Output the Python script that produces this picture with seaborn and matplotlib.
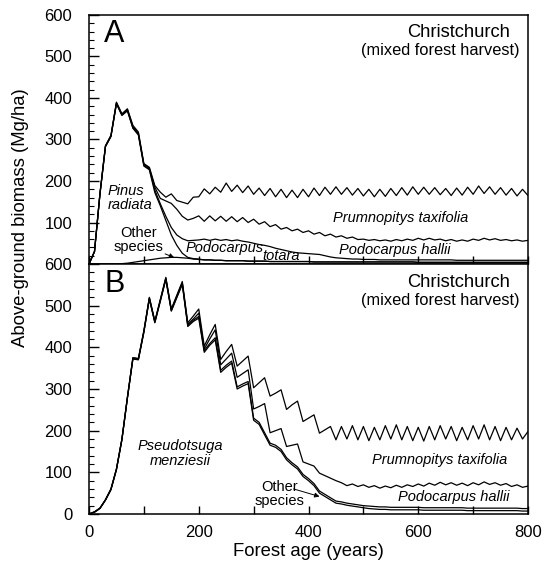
"""Above-ground biomass by species, Christchurch mixed forest harvest (two panels)."""

import pandas as pd
import seaborn as sns
import matplotlib.pyplot as plt
from matplotlib.ticker import MultipleLocator, FixedLocator, FixedFormatter

#########################################################################################
# Data - upper edge of each stacked species band (cumulative biomass, Mg/ha)
#########################################################################################

ages = list(range(0, 801, 10))

# Panel A
a_other = [0, 0, 0, 0, 0, 0, 1, 2, 4, 6,
           8, 10, 12, 14, 15, 16, 16, 15, 14, 12,
           11, 10, 10, 9, 9, 8, 8, 8, 8, 7,
           7, 7, 7, 6, 6, 6, 6, 6, 6, 6,
           6, 5, 5, 5, 5, 5, 5, 5, 5, 5,
           5, 5, 5, 5, 5, 5, 5, 5, 5, 5,
           4, 4, 4, 4, 4, 4, 4, 4, 4, 4,
           4, 4, 4, 4, 4, 4, 4, 4, 4, 4,
           4]
a_pinus = [0, 30, 169, 283, 307, 386, 358, 369, 327, 311,
           236, 227, 172, 140, 105, 70, 45, 26, 16, 13,
           12, 10, 10, 9, 9, 8, 8, 8, 8, 7,
           7, 7, 7, 6, 6, 6, 6, 6, 6, 6,
           6, 5, 5, 5, 5, 5, 5, 5, 5, 5,
           5, 5, 5, 5, 5, 5, 5, 5, 5, 5,
           4, 4, 4, 4, 4, 4, 4, 4, 4, 4,
           4, 4, 4, 4, 4, 4, 4, 4, 4, 4,
           4]
a_totara = [0, 30, 169, 283, 308, 387, 359, 370, 328, 312,
            238, 229, 178, 145, 115, 88, 70, 61, 56, 57,
            58, 60, 57, 60, 57, 59, 56, 58, 55, 53,
            50, 47, 45, 42, 38, 35, 32, 29, 27, 26,
            25, 24, 23, 20, 17, 15, 14, 13, 12, 12,
            11, 11, 11, 10, 10, 10, 10, 10, 10, 10,
            10, 10, 10, 10, 10, 10, 10, 9, 9, 9,
            9, 9, 9, 9, 9, 9, 9, 9, 9, 9,
            9]
a_hallii = [0, 30, 170, 284, 309, 388, 360, 372, 331, 315,
            240, 231, 185, 158, 152, 146, 132, 115, 106, 110,
            116, 103, 116, 104, 115, 103, 114, 102, 112, 100,
            108, 96, 102, 90, 95, 84, 88, 80, 84, 76,
            80, 72, 76, 68, 72, 65, 68, 62, 65, 59,
            60, 57, 59, 56, 58, 55, 59, 56, 60, 57,
            62, 58, 62, 58, 60, 56, 59, 55, 58, 55,
            60, 57, 62, 58, 61, 57, 59, 56, 58, 55,
            57]
a_taxifolia = [0, 30, 170, 285, 310, 390, 362, 374, 334, 318,
               242, 233, 189, 173, 161, 169, 153, 149, 145, 161,
               162, 181, 169, 185, 173, 195, 175, 190, 172, 188,
               168, 183, 165, 182, 162, 180, 160, 178, 160, 180,
               162, 183, 165, 185, 168, 186, 168, 184, 166, 182,
               164, 180, 162, 180, 163, 182, 165, 184, 166, 186,
               168, 185, 168, 184, 167, 182, 165, 183, 166, 185,
               168, 188, 170, 186, 168, 184, 166, 182, 164, 180,
               165]

# Panel B
b_pseudotsuga = [0, 4, 13, 33, 58, 106, 178, 278, 372, 370,
                 436, 516, 459, 511, 563, 487, 519, 551, 450, 462,
                 470, 388, 405, 418, 340, 352, 362, 300, 307, 313,
                 225, 215, 190, 165, 160, 150, 130, 118, 108, 90,
                 80, 68, 50, 42, 34, 26, 24, 21, 19, 17,
                 15, 13, 12, 11, 11, 10, 10, 10, 10, 10,
                 10, 9, 9, 9, 9, 9, 9, 9, 9, 8,
                 8, 8, 8, 8, 8, 8, 8, 8, 8, 7,
                 7]
b_other = [0, 5, 14, 34, 59, 107, 179, 279, 373, 371,
           437, 517, 460, 512, 564, 488, 521, 553, 452, 465,
           474, 392, 409, 423, 345, 357, 367, 305, 312, 318,
           230, 220, 195, 170, 165, 155, 135, 123, 113, 95,
           85, 73, 55, 47, 39, 31, 29, 26, 24, 22,
           20, 19, 18, 17, 17, 16, 16, 16, 16, 16,
           16, 15, 15, 15, 15, 15, 15, 15, 15, 14,
           14, 14, 14, 14, 14, 14, 14, 14, 14, 13,
           13]
b_hallii = [0, 5, 14, 34, 60, 108, 180, 280, 375, 373,
            439, 519, 462, 514, 566, 490, 523, 555, 455, 468,
            482, 396, 420, 442, 358, 372, 386, 328, 337, 346,
            252, 258, 265, 195, 200, 205, 162, 165, 168, 125,
            120, 115, 98, 92, 86, 80, 75, 68, 72, 66,
            70, 64, 68, 62, 67, 63, 69, 64, 70, 66,
            72, 67, 74, 69, 76, 70, 75, 69, 74, 68,
            75, 70, 77, 71, 75, 69, 73, 66, 70, 64,
            67]
b_taxifolia = [0, 5, 14, 34, 60, 108, 180, 280, 375, 373,
               440, 520, 463, 515, 568, 492, 525, 558, 459, 475,
               492, 403, 430, 455, 371, 390, 407, 355, 367, 379,
               303, 315, 327, 283, 290, 298, 251, 262, 271, 222,
               230, 238, 194, 202, 210, 178, 210, 180, 212, 178,
               210, 176, 208, 178, 212, 180, 214, 178, 210, 176,
               208, 175, 210, 178, 212, 180, 210, 176, 208, 178,
               212, 180, 214, 178, 210, 176, 208, 178, 206, 180,
               198]

x_tick_labels = ['0', '', '200', '', '400', '', '600', '', '800']

#########################################################################################
#########################################################################################

def to_long(edges):
    """Stack the named edge series into one long dataframe."""

    frames = [pd.DataFrame({'age': ages, 'biomass': vals, 'edge': name})
              for name, vals in edges.items()]
    return pd.concat(frames, ignore_index=True)


def style_axes(ax, show_x_labels, y_labels):
    """Box, inward ticks and limits shared by both panels."""

    ax.set_xlim(0, 800)
    ax.set_ylim(0, 600)
    for sp in ax.spines.values():
        sp.set_visible(True)
        sp.set_linewidth(1.1)
        sp.set_color('black')

    ax.xaxis.set_major_locator(FixedLocator(range(0, 801, 100)))
    ax.yaxis.set_major_locator(FixedLocator(range(0, 601, 100)))
    ax.yaxis.set_minor_locator(MultipleLocator(20))
    ax.yaxis.set_major_formatter(FixedFormatter(y_labels))
    if show_x_labels:
        ax.xaxis.set_major_formatter(FixedFormatter(x_tick_labels))
    else:
        ax.set_xticklabels([])

    ax.tick_params(axis='x', which='major', direction='in', length=6, width=1,
                   labelsize=12, pad=8, top=False, colors='black')
    ax.tick_params(axis='y', which='major', direction='in', length=7, width=1,
                   labelsize=12, pad=12, right=False, colors='black')
    ax.tick_params(axis='y', which='minor', direction='in', length=3.5, width=0.8,
                   right=False, colors='black')
    ax.set_xlabel('')
    ax.set_ylabel('')


sns.set_theme(style='ticks')
plt.rcParams['font.family'] = ['Liberation Sans', 'DejaVu Sans']
plt.rcParams['text.color'] = 'black'
plt.rcParams['axes.labelcolor'] = 'black'

fig = plt.figure(figsize=(5.44, 5.65), dpi=100)
ax_a = fig.add_axes([0.1636, 0.5327, 0.807, 0.4408])
ax_b = fig.add_axes([0.1636, 0.0903, 0.807, 0.4424])

df_a = to_long({'other': a_other, 'pinus': a_pinus, 'totara': a_totara,
                'hallii': a_hallii, 'taxifolia': a_taxifolia})
df_b = to_long({'pseudotsuga': b_pseudotsuga, 'other': b_other,
                'hallii': b_hallii, 'taxifolia': b_taxifolia})

sns.lineplot(data=df_a, x='age', y='biomass', units='edge', estimator=None,
             color='black', lw=0.9, ax=ax_a)
sns.lineplot(data=df_b, x='age', y='biomass', units='edge', estimator=None,
             color='black', lw=0.9, ax=ax_b)

style_axes(ax_a, False, ['', '100', '200', '300', '400', '500', '600'])
style_axes(ax_b, True, ['0', '100', '200', '300', '400', '500', '600'])

# Panel letters and site titles
for ax, letter, ty in [(ax_a, 'A', 0.923), (ax_b, 'B', 0.92)]:
    ax.text(0.058, ty, letter, transform=ax.transAxes, fontsize=22,
            ha='center', va='center')
    ax.text(0.959, ty + 0.008, 'Christchurch', transform=ax.transAxes,
            fontsize=13.2, ha='right', va='center')
    ax.text(0.98, ty - 0.066, '(mixed forest harvest)', transform=ax.transAxes,
            fontsize=11.8, ha='right', va='center')

# Species labels - panel A
sp_kw = dict(fontsize=10.5, style='italic')
ax_a.text(34, 159, 'Pinus\nradiata', ha='left', va='center', linespacing=1.05, **sp_kw)
ax_a.text(91, 57, 'Other\nspecies', ha='center', va='center', linespacing=1.0, fontsize=10.5)
ax_a.annotate('', xy=(160, 13), xytext=(134, 27),
              arrowprops=dict(arrowstyle='-|>', color='black', lw=0.7, mutation_scale=7))
ax_a.text(176, 38, 'Podocarpus', ha='left', va='center', **sp_kw)
ax_a.text(316, 19, 'totara', ha='left', va='center', **sp_kw)
ax_a.text(568, 112, 'Prumnopitys taxifolia', ha='center', va='center', **sp_kw)
ax_a.text(557, 33, 'Podocarpus hallii', ha='center', va='center', **sp_kw)

# Species labels - panel B
ax_b.text(167, 145, 'Pseudotsuga\nmenziesii', ha='center', va='center',
          linespacing=1.05, **sp_kw)
ax_b.text(348, 48, 'Other\nspecies', ha='center', va='center', linespacing=1.0, fontsize=10.5)
ax_b.annotate('', xy=(425, 40), xytext=(368, 62),
              arrowprops=dict(arrowstyle='-|>', color='black', lw=0.7, mutation_scale=7))
ax_b.text(639, 130, 'Prumnopitys taxifolia', ha='center', va='center', **sp_kw)
ax_b.text(665, 41, 'Podocarpus hallii', ha='center', va='center', **sp_kw)

ax_b.set_xlabel('Forest age (years)', fontsize=13.3, labelpad=2)
fig.text(0.037, 0.614, 'Above-ground biomass (Mg/ha)', rotation=90,
         fontsize=13.3, ha='center', va='center')

fig.savefig('out.png', dpi=100)
